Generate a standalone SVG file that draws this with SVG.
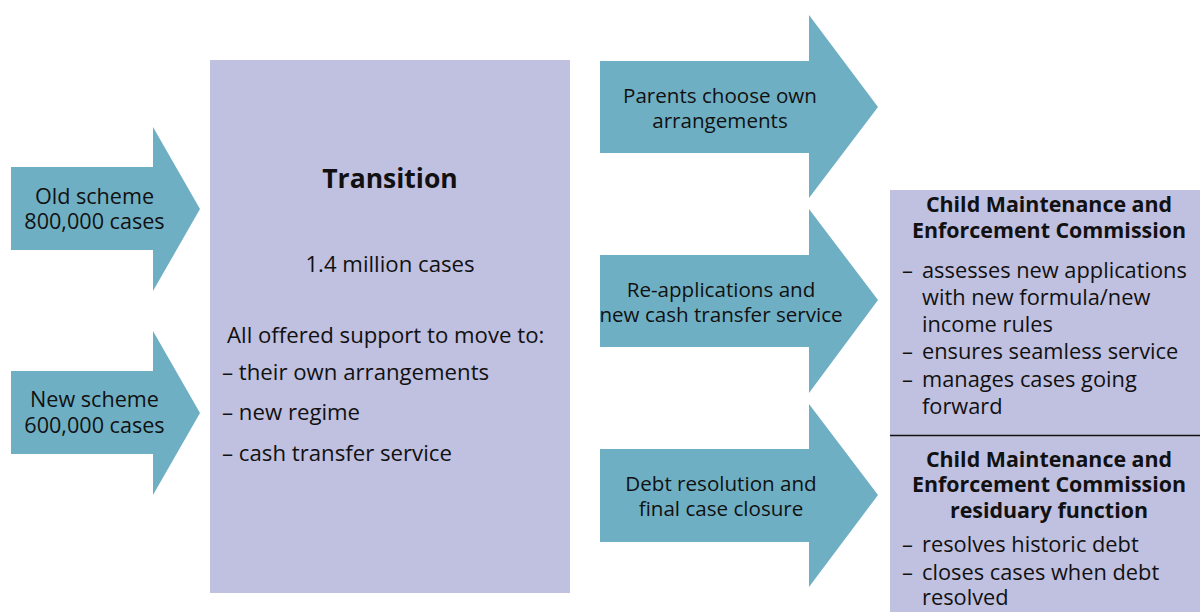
<svg xmlns="http://www.w3.org/2000/svg" width="1200" height="612" viewBox="0 0 1200 612">
<style>
.arrow{fill:#6fafc4}
.box{fill:#c0c0e0}
text{font-family:"Open Sans","Noto Sans","Liberation Sans",sans-serif;fill:#111;font-size:20px}
.c{text-anchor:middle}
.la{font-size:21.6px}
.ra{font-size:20.6px}
.bx{font-size:22.2px}
.rp{font-size:21.8px}
.t{font-size:26.5px;font-weight:bold}
.h{font-size:21.4px;font-weight:bold}
</style>
<rect width="1200" height="612" fill="#ffffff"/>
<g id="connectors">
<g id="arrow-old">
<polygon class="arrow" points="11,167 153,167 153,127 200,209 153,291 153,250 11,250"/>
<text class="c la" x="94.5" y="204">Old scheme</text>
<text class="c la" x="94.5" y="229">800,000 cases</text>
</g>
<g id="arrow-new">
<polygon class="arrow" points="11,371 153,371 153,331 200,413 153,495 153,454 11,454"/>
<text class="c la" x="94.5" y="407">New scheme</text>
<text class="c la" x="94.5" y="433">600,000 cases</text>
</g>
<g id="arrow-parents">
<polygon class="arrow" points="600,61 809,61 809,15 878,107 809,198 809,153 600,153"/>
<text class="c ra" x="720" y="103">Parents choose own</text>
<text class="c ra" x="720" y="128">arrangements</text>
</g>
<g id="arrow-reapp">
<polygon class="arrow" points="600,255 809,255 809,209 878,300 809,393 809,347 600,347"/>
<text class="c ra" x="721" y="297">Re-applications and</text>
<text class="c ra" x="721" y="322">new cash transfer service</text>
</g>
<g id="arrow-debt">
<polygon class="arrow" points="600,449 809,449 809,404 878,495 809,587 809,542 600,542"/>
<text class="c ra" x="721" y="491">Debt resolution and</text>
<text class="c ra" x="721" y="516">final case closure</text>
</g>
</g>
<g id="transition">
<rect class="box" x="210" y="60" width="360" height="533"/>
<text class="c t" x="390" y="188">Transition</text>
<text class="c bx" x="390" y="272">1.4 million cases</text>
<text class="bx" x="227" y="343">All offered support to move to:</text>
<text class="bx" x="222" y="380">– their own arrangements</text>
<text class="bx" x="222" y="420">– new regime</text>
<text class="bx" x="222" y="461">– cash transfer service</text>
</g>
<g id="cmec">
<rect class="box" x="890" y="190" width="310" height="245"/>
<text class="c h" x="1049" y="212">Child Maintenance and</text>
<text class="c h" x="1049" y="238">Enforcement Commission</text>
<text class="rp" x="902" y="278">–</text><text class="rp" x="922" y="278">assesses new applications</text>
<text class="rp" x="922" y="305">with new formula/new</text>
<text class="rp" x="922" y="332">income rules</text>
<text class="rp" x="902" y="359">–</text><text class="rp" x="922" y="359">ensures seamless service</text>
<text class="rp" x="902" y="387">–</text><text class="rp" x="922" y="387">manages cases going</text>
<text class="rp" x="922" y="414">forward</text>
</g>
<g id="cmec-residuary">
<rect class="box" x="890" y="435" width="310" height="177"/>
<line x1="890" y1="435.5" x2="1200" y2="435.5" stroke="#111" stroke-width="1.5"/>
<text class="c h" x="1049" y="467">Child Maintenance and</text>
<text class="c h" x="1049" y="492">Enforcement Commission</text>
<text class="c h" x="1049" y="518">residuary function</text>
<text class="rp" x="902" y="552">–</text><text class="rp" x="922" y="552">resolves historic debt</text>
<text class="rp" x="902" y="580">–</text><text class="rp" x="922" y="580">closes cases when debt</text>
<text class="rp" x="922" y="605">resolved</text>
</g>
</svg>
